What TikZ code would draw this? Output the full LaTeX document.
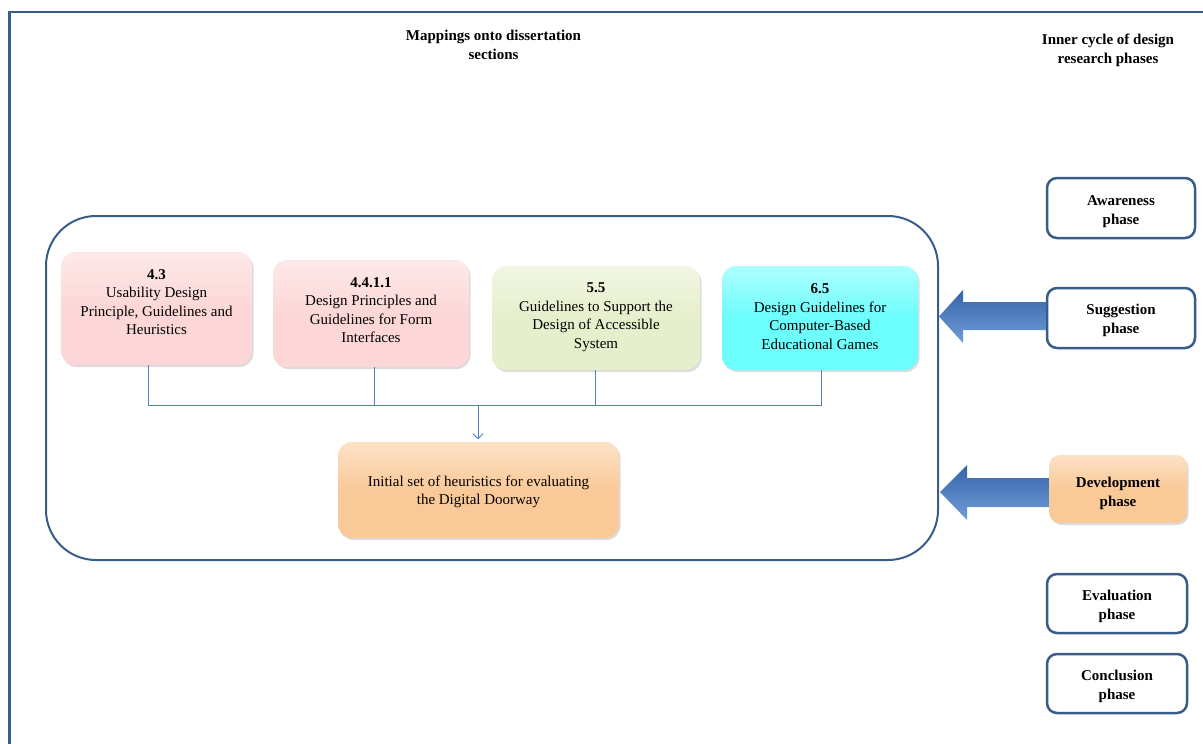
\documentclass[tikz,border=0pt]{standalone}
\usepackage{fontspec}
\setmainfont{Liberation Serif}
\usetikzlibrary{shadows,arrows.meta,calc}
\definecolor{frameblue}{RGB}{56,93,138}
\definecolor{linkblue}{RGB}{79,129,189}
\definecolor{pinkbox}{RGB}{253,215,215}
\definecolor{greenbox}{RGB}{230,239,204}
\definecolor{cyanbox}{RGB}{108,253,253}
\definecolor{peachbox}{RGB}{250,201,152}
\definecolor{arrowtop}{RGB}{54,100,170}
\definecolor{arrowmid}{RGB}{64,116,188}
\definecolor{arrowbot}{RGB}{112,156,214}

\begin{document}
\begin{tikzpicture}[x=1pt,y=-1pt,
  secbox/.style={rounded corners=14pt, draw=none, inner sep=0pt,
    drop shadow={opacity=0.28,shadow xshift=1.5pt,shadow yshift=-2pt},
    top color=#1!55!white, bottom color=#1, middle color=#1},
  boxtext/.style={align=center, font=\fontsize{15}{18.5}\selectfont, inner sep=0pt},
  phasebox/.style={draw=frameblue, line width=2.5pt, rounded corners=10pt, fill=white, inner sep=0pt},
  heading/.style={align=center, font=\bfseries\fontsize{15}{19.5}\selectfont, inner sep=0pt},
  phasetext/.style={align=center, font=\bfseries\fontsize{15}{19}\selectfont, inner sep=0pt},
  conn/.style={draw=linkblue, line width=0.9pt},
  blockarrow/.style={top color=arrowtop, middle color=arrowmid, bottom color=arrowbot, draw=none}
]
\useasboundingbox (0,0) rectangle (1203,744);

% outer frame (top and left edges)
\draw[frameblue, line width=2.7pt] (9.7,744) -- (9.7,12) -- (1203,12);

% headings
\node[heading] (hmap) at (493.5,45) {Mappings onto dissertation\\sections};
\node[heading] (hinner) at (1108,50.5) {Inner cycle of design\\research phases};

% development-phase container
\node[draw=frameblue, line width=2pt, rounded corners=50pt,
      minimum width=892pt, minimum height=344pt, inner sep=0pt] (big) at (492,388) {};

% dissertation section boxes
\node[secbox=pinkbox, minimum width=191pt, minimum height=113pt] (s43) at (156.5,308.5) {};
\node[boxtext] (s43t) at (156.5,302) {\textbf{4.3}\\Usability Design\\Principle, Guidelines and\\Heuristics};

\node[secbox=pinkbox, minimum width=196pt, minimum height=107pt] (s4411) at (371,313.5) {};
\node[boxtext] (s4411t) at (371,310) {\textbf{4.4.1.1}\\Design Principles and\\Guidelines for Form\\Interfaces};

\node[secbox=greenbox, minimum width=208pt, minimum height=104pt] (s55) at (596,318) {};
\node[boxtext] (s55t) at (596,317) {\textbf{5.5}\\Guidelines to Support the\\Design of Accessible\\System};

\node[secbox=cyanbox, minimum width=196pt, minimum height=104pt] (s65) at (820,318) {};
\node[boxtext] (s65t) at (820,316.5) {\textbf{6.5}\\Design Guidelines for\\Computer-Based\\Educational Games};

% resulting heuristics box
\node[secbox=peachbox, minimum width=281pt, minimum height=96pt] (init) at (478.5,490) {};
\node[boxtext] (initt) at (478.5,492) {Initial set of heuristics for evaluating\\the Digital Doorway};

% connectors
\coordinate (jn) at (478,405.5);
\coordinate (c1) at ([xshift=-8.5pt]s43.south);
\coordinate (c2) at ([xshift=3.5pt]s4411.south);
\coordinate (c3) at ([xshift=-1pt]s55.south);
\coordinate (c4) at ([xshift=1pt]s65.south);
\draw[conn] (c1) -- (c1 |- jn) -- (c4 |- jn) -- (c4);
\draw[conn] (c2) -- (c2 |- jn);
\draw[conn] (c3) -- (c3 |- jn);
\draw[conn, -{Straight Barb[length=5pt,width=10pt]}, shorten >=2.5pt] (jn) -- (jn |- init.north);

% research phases
\node[phasebox, minimum width=148pt, minimum height=60pt] (aw) at (1121,208) {};
\node[phasetext] (awt) at (1121,211.5) {Awareness\\phase};
\node[phasebox, minimum width=148pt, minimum height=60pt] (sug) at (1121,318) {};
\node[phasetext] (sugt) at (1121,320.5) {Suggestion\\phase};
\node[secbox=peachbox, rounded corners=11pt, minimum width=138pt, minimum height=68pt] (dev) at (1118,489) {};
\node[phasetext] (devt) at (1118,493) {Development\\phase};
\node[phasebox, minimum width=140pt, minimum height=59pt] (ev) at (1117,603.5) {};
\node[phasetext] (evt) at (1117,606.5) {Evaluation\\phase};
\node[phasebox, minimum width=140pt, minimum height=59pt] (con) at (1117,683.5) {};
\node[phasetext] (cont) at (1117,686.5) {Conclusion\\phase};

% block arrows from the phases into the container
\path[blockarrow] (sug.west |- 0,302) -- (963,302) -- (963,290) -- (big.east |- 0,316.5)
  -- (963,343) -- (963,330) -- (sug.west |- 0,330) -- cycle;
\path[blockarrow] (dev.west |- 0,478) -- (967,478) -- (967,465) -- (940,492)
  -- (967,520) -- (967,507) -- (dev.west |- 0,507) -- cycle;
\end{tikzpicture}
\end{document}
